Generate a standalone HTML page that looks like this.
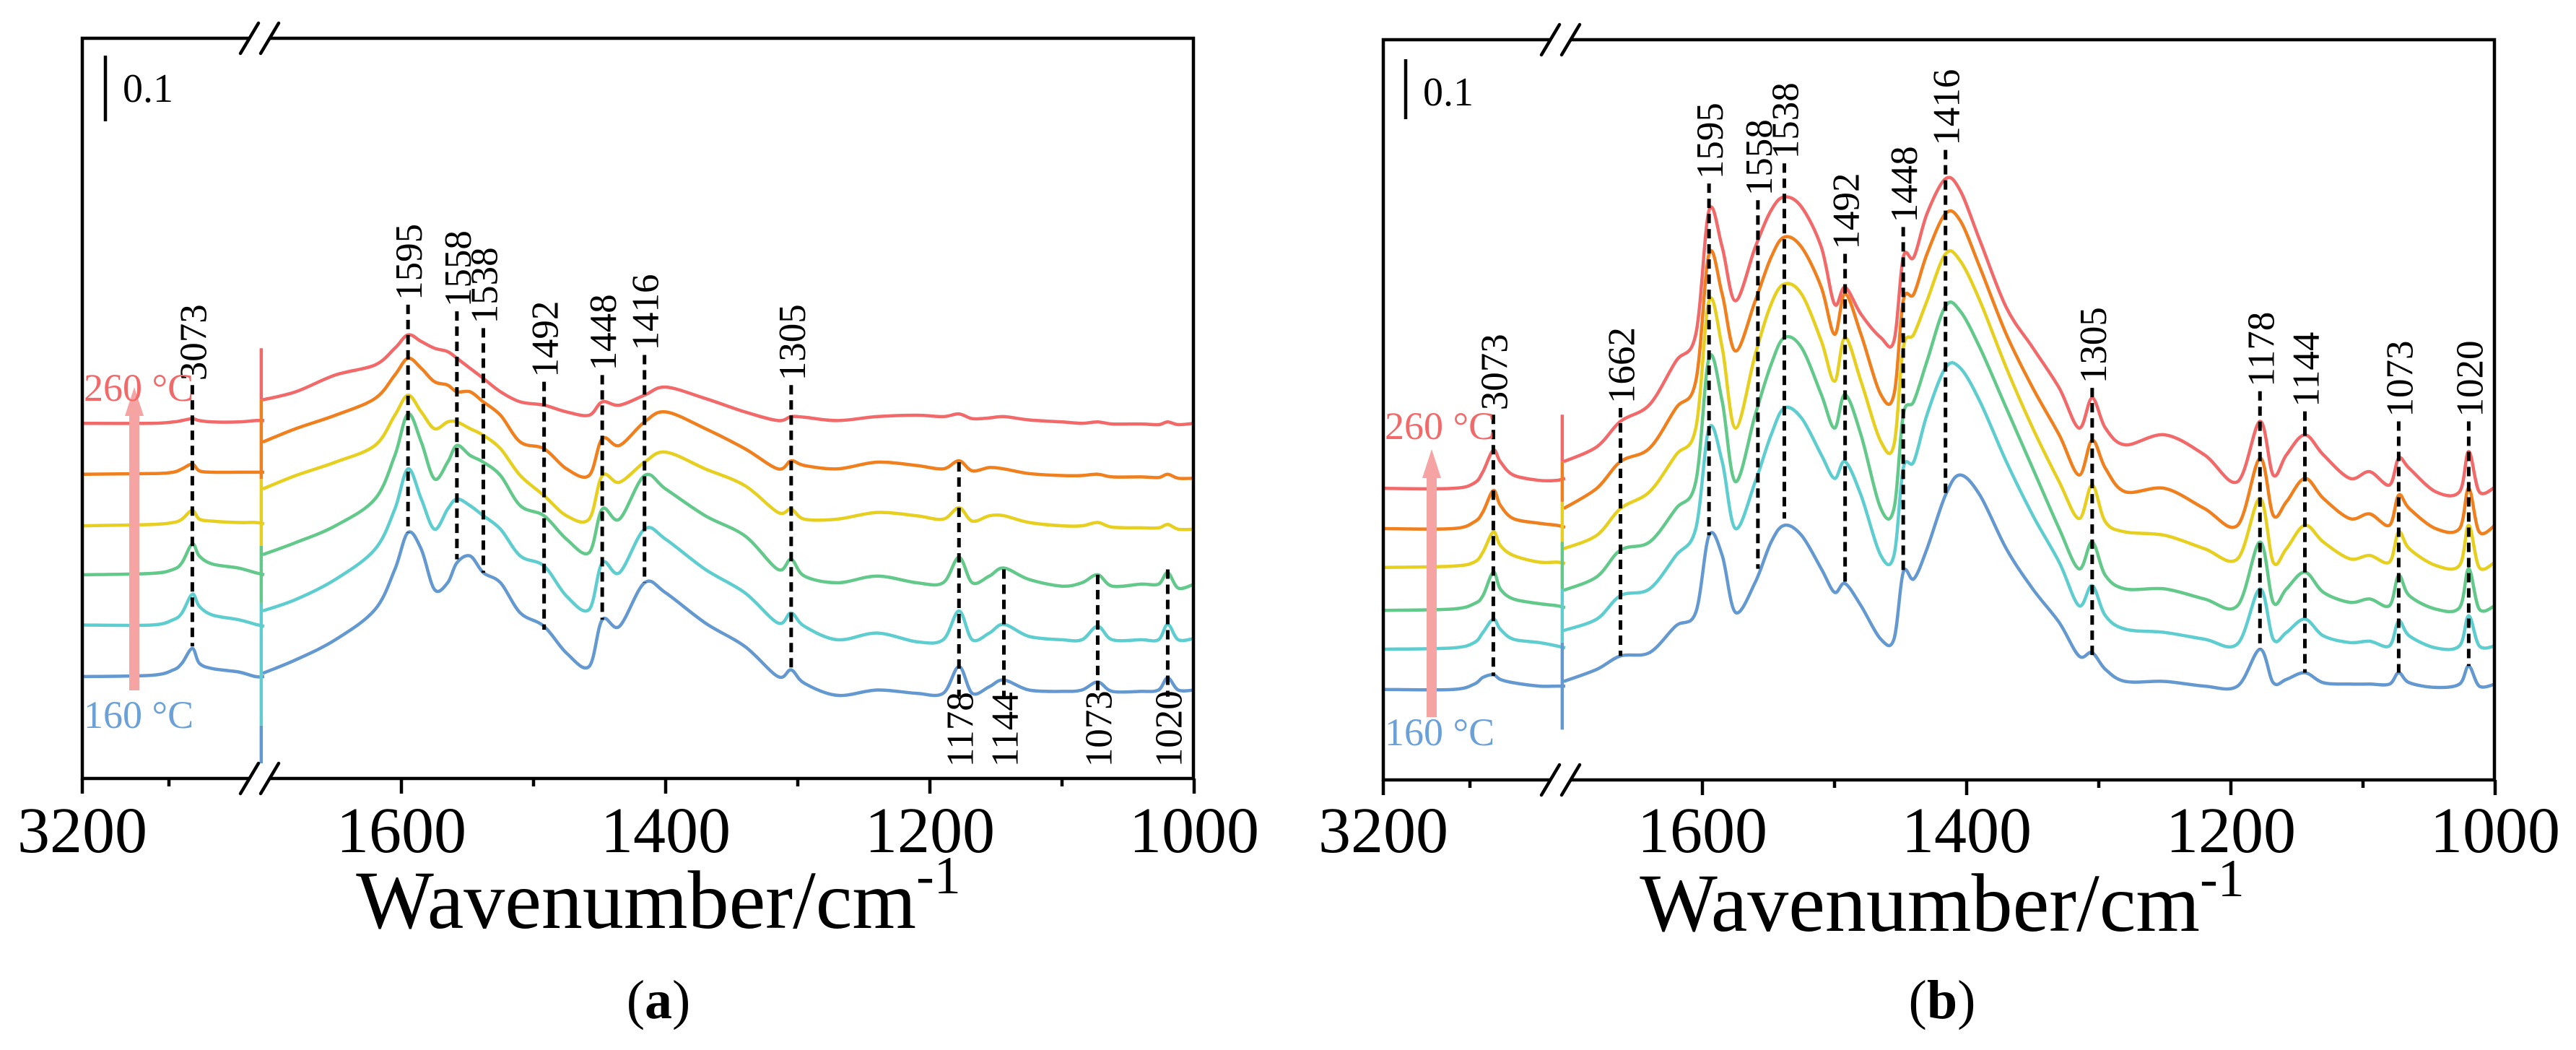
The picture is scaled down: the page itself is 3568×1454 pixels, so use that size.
<!DOCTYPE html>
<html><head><meta charset="utf-8"><style>
html,body{margin:0;padding:0;background:#fff}
svg{display:block}
text{font-family:"Liberation Serif",serif}
</style></head><body>
<svg id="fig" width="3568" height="1454" viewBox="0 0 3568 1454" xmlns="http://www.w3.org/2000/svg"></svg>
<script>
// ---------- DATA ----------
const temps = ["160 °C","180 °C","200 °C","220 °C","240 °C","260 °C"];
const waveLeft = [3200,3120,3095,3085,3073,3065,3050,3020,3000,2990];
const waveRightA = [1705,1680,1650,1620,1605,1595,1585,1575,1565,1558,1548,1538,1525,1510,1492,1475,1458,1448,1435,1416,1400,1370,1340,1315,1305,1295,1270,1240,1210,1190,1178,1168,1155,1144,1125,1100,1085,1073,1062,1040,1027,1020,1012,1000];
const waveRightB = [1705,1680,1662,1640,1620,1605,1595,1585,1575,1560,1548,1538,1525,1510,1500,1492,1480,1465,1455,1448,1440,1430,1416,1405,1390,1370,1350,1330,1315,1305,1295,1280,1250,1220,1195,1178,1168,1158,1144,1130,1110,1095,1080,1073,1065,1045,1027,1020,1012,1000];

// panel (a) intensities (a.u.), left segment
const aLeft160 = [190,192,200,210,232,210,202,197,190,190];
const aLeft180 = [267,267,275,285,313,295,282,275,268,265];
const aLeft200 = [342,344,350,360,388,370,358,352,345,342];
const aLeft220 = [415,417,420,425,438,425,422,420,420,418];
const aLeft240 = [492,493,495,500,507,497,495,495,495,495];
const aLeft260 = [568,568,570,572,575,572,570,570,572,572];
// panel (a) right segment
const aRight160 = [195,215,245,290,350,405,380,320,330,360,370,345,330,285,265,225,205,275,265,330,315,270,235,190,200,180,162,170,165,165,205,165,175,185,170,168,170,182,168,168,170,188,170,170];
const aRight180 = [288,305,335,380,440,500,455,410,440,455,445,430,410,370,355,310,290,360,345,410,395,350,315,270,285,265,245,255,242,245,288,245,255,268,250,245,245,265,245,245,245,268,245,247];
const aRight200 = [372,390,415,455,520,582,540,485,510,535,520,510,490,445,430,395,375,440,425,490,470,430,400,350,365,340,330,340,330,330,368,330,340,352,335,325,330,342,325,328,328,345,322,328];
const aRight220 = [470,490,510,535,580,610,585,560,570,570,560,550,530,490,460,430,425,490,480,510,525,500,475,435,440,425,425,435,430,425,442,422,430,430,420,415,415,420,413,412,412,417,410,410];
const aRight240 = [540,560,580,605,640,665,650,630,625,615,615,600,580,540,530,500,490,545,535,570,585,560,530,500,512,505,500,510,505,500,512,497,502,500,493,490,490,492,488,488,487,492,486,486];
const aRight260 = [603,615,640,655,680,700,690,680,675,665,650,635,615,600,595,585,580,600,595,610,622,605,585,572,578,577,572,578,580,578,582,575,576,578,573,570,568,570,567,567,566,570,566,568];

// panel (b)
const bLeft160 = [170,170,178,188,192,185,180,175,175,175];
const bLeft180 = [230,232,240,255,275,260,245,240,235,232];
const bLeft200 = [288,290,298,310,345,320,305,298,295,292];
const bLeft220 = [352,354,360,375,405,385,370,360,360,358];
const bLeft240 = [410,410,420,435,467,445,425,418,415,412];
const bLeft260 = [470,470,478,495,527,510,490,482,482,485];
const bRight160 = [182,200,220,225,265,285,400,370,285,330,390,415,400,350,315,328,295,245,245,345,335,380,460,490,460,380,320,270,220,225,200,182,182,175,175,230,180,185,195,180,178,178,178,195,180,173,178,205,175,178];
const bRight180 = [258,275,310,320,370,410,560,510,410,480,550,590,575,520,485,510,460,370,370,500,510,580,650,650,600,510,430,360,295,325,280,260,255,245,238,320,245,255,275,250,240,242,235,272,250,232,235,280,235,235];
const bRight200 = [318,338,378,390,440,480,665,600,480,580,655,695,680,610,560,610,550,440,440,580,600,660,742,735,680,590,500,410,350,390,340,320,320,305,295,390,300,320,345,315,300,305,295,340,310,290,292,350,290,295];
const bRight220 = [380,400,440,465,520,560,750,680,560,670,745,775,760,690,630,695,630,540,535,680,700,750,820,810,750,650,560,480,425,475,420,405,400,380,365,455,360,380,415,390,365,370,360,405,380,355,355,415,352,360];
const bRight240 = [440,470,510,530,590,630,820,760,675,750,815,845,830,770,700,760,700,610,610,750,760,820,880,870,800,700,620,550,490,542,500,465,470,440,415,515,430,450,485,455,425,432,415,460,440,410,410,470,405,415];
const bRight260 = [510,532,570,595,660,700,885,830,750,830,885,905,890,830,745,770,730,695,690,815,815,880,932,915,840,740,680,620,560,605,560,535,550,520,480,570,490,520,550,520,485,495,475,515,500,465,465,525,465,472];

// peak markers
const aPeaks = [3073,1595,1558,1538,1492,1448,1416,1305,1178,1144,1073,1020];
const aPeakTop = [625,745,735,710,630,640,670,625,510,350,342,350];
const aPeakBottom = [235,405,365,345,260,275,330,200,160,160,160,160];
const aPeakLabelBelow = [0,0,0,0,0,0,0,0,1,1,1,1];
const bPeaks = [3073,1662,1595,1558,1538,1492,1448,1416,1305,1178,1144,1073,1020];
const bPeakTop = [580,590,925,900,955,820,860,975,620,615,585,570,570];
const bPeakBottom = [190,220,400,350,425,330,345,460,215,230,195,195,205];

const breakA = [680,603,485,385,300,117,38];
const breakB = [580,510,450,390,320,240,110];

const ticksMajor = [3200,1600,1400,1200,1000];
const ticksMinor = [3100,1500,1300,1100];

const colors = ["#6399D0","#5ECDCF","#62C98B","#E6CF1E","#F07F1E","#F2696A"];

// ---------- DRAW ----------
const NS="http://www.w3.org/2000/svg";
const svg=document.getElementById('fig');
function mk(tag,attrs,parent){const e=document.createElementNS(NS,tag);for(const k in attrs)e.setAttribute(k,attrs[k]);(parent||svg).appendChild(e);return e;}

function smooth(pts){
  let d="M"+pts[0][0].toFixed(1)+","+pts[0][1].toFixed(1);
  for(let i=0;i<pts.length-1;i++){
    const p0=pts[i-1]||pts[i],p1=pts[i],p2=pts[i+1],p3=pts[i+2]||p2;
    const c1x=p1[0]+(p2[0]-p0[0])/6,c1y=p1[1]+(p2[1]-p0[1])/6;
    const c2x=p2[0]-(p3[0]-p1[0])/6,c2y=p2[1]-(p3[1]-p1[1])/6;
    d+=" C"+c1x.toFixed(1)+","+c1y.toFixed(1)+" "+c2x.toFixed(1)+","+c2y.toFixed(1)+" "+p2[0].toFixed(1)+","+p2[1].toFixed(1);
  }
  return d;
}

function panel(cfg){
  const off=cfg.off, top=cfg.top, bot=cfg.bot, L=114+off, R=1653+off;
  const xR=w=>556+off+(1600-w)*1.83;
  const xL=w=>114+off+(3200-w)*1.2;
  const xW=w=>w>2000?xL(w):xR(w);
  const yS=v=>bot-(v-cfg.v0)*0.928;
  const g=mk('g',{});
  
  

  for(let s=0;s<6;s++){
    const pl=cfg.left[s].map((v,i)=>[xL(waveLeft[i]),yS(v)]);
    const pr=cfg.right[s].map((v,i)=>[xR(cfg.waveR[i]),yS(v)]);
    const p1=mk('path',{d:smooth(pl),fill:'none',stroke:colors[s],'stroke-width':4.5,'stroke-linejoin':'round'},g);
    
    
    const p2=mk('path',{d:smooth(pr),fill:'none',stroke:colors[s],'stroke-width':4.5,'stroke-linejoin':'round'},g);
    
    
  }
  const bx=xR(1705)-2;
  for(let s=0;s<6;s++){
    const ln=mk('line',{x1:bx,x2:bx,y1:yS(cfg.brk[5-s]),y2:yS(cfg.brk[6-s]),stroke:colors[s],'stroke-width':4.5},g);
    
    
  }
  const fr=mk('rect',{x:L,y:top,width:R-L,height:bot-top,fill:'none',stroke:'#000','stroke-width':4.5},g);
  
  
  [top,bot].forEach(yy=>{
    const bk=mk('g',{},g);
    
    
    mk('polygon',{points:`${333+off},${yy+21} ${358+off},${yy-21} ${386+off},${yy-21} ${361+off},${yy+21}`,fill:'#fff'},bk);
    mk('line',{x1:333+off,y1:yy+21,x2:358+off,y2:yy-21,stroke:'#000','stroke-width':4.5,'stroke-linecap':'round'},bk);
    mk('line',{x1:361+off,y1:yy+21,x2:386+off,y2:yy-21,stroke:'#000','stroke-width':4.5,'stroke-linecap':'round'},bk);
  });
  ticksMajor.forEach(t=>{
    const x=xW(t);
    const tk=mk('line',{x1:x,x2:x,y1:bot,y2:bot+21,stroke:'#000','stroke-width':4.5},g);
    
    
    const tl=mk('text',{x:x,y:1180,'font-size':90,'text-anchor':'middle',fill:'#000'},g);
    tl.textContent=t;
    
    
  });
  ticksMinor.forEach(t=>{
    const x=xW(t);
    const tk=mk('line',{x1:x,x2:x,y1:bot,y2:bot+11,stroke:'#000','stroke-width':4.5},g);
    
    
  });
  cfg.peaks.forEach((p,i)=>{
    const x=xW(p), yt=yS(cfg.pTop[i]), yb=yS(cfg.pBot[i]);
    const dl=mk('line',{x1:x,x2:x,y1:yt,y2:yb,stroke:'#000','stroke-width':5,'stroke-dasharray':'13 8'},g);
    
    
    const below=cfg.below&&cfg.below[i];
    const ty=below?yS(55):yt-6;
    const tx=x+19;
    const tl=mk('text',{x:tx,y:ty,'font-size':53,'text-anchor':'start',fill:'#000',transform:`rotate(-90 ${tx} ${ty})`,'font-family':'"Liberation Sans",sans-serif'},g);
    tl.textContent=p;
    
    
  });
  const sb=mk('line',{x1:cfg.sbx,x2:cfg.sbx,y1:cfg.sby1,y2:cfg.sby2,stroke:'#000','stroke-width':4.5},g);
  
  
  const st=mk('text',{x:cfg.sbx+24,y:cfg.sby1+64,'font-size':56,fill:'#000'},g);
  st.textContent='0.1';
  
  
  const ar=mk('g',{},g);
  
  
  mk('rect',{x:cfg.arx-7,y:cfg.arTop+38,width:14,height:cfg.arBot-cfg.arTop-38,fill:'#F6A3A3'},ar);
  mk('polygon',{points:`${cfg.arx-13},${cfg.arTop+40} ${cfg.arx},${cfg.arTop} ${cfg.arx+13},${cfg.arTop+40}`,fill:'#F6A3A3'},ar);
  const t1=mk('text',{x:L+2,y:cfg.hiY,'font-size':54,fill:'#F2696A'},g);
  t1.textContent='260 °C';
  
  
  const t2=mk('text',{x:L+2,y:cfg.loY,'font-size':54,fill:'#6BA1D8'},g);
  t2.textContent='160 °C';
  
  
  const at=mk('text',{x:cfg.titleX,y:cfg.titleY,'font-size':114,'text-anchor':'middle',fill:'#000'},g);
  at.textContent='Wavenumber/cm';
  
  
  const ts=mk('tspan',{'font-size':74,dy:-48},at);
  ts.textContent='-1';
  const pl=mk('text',{x:cfg.titleX,y:1410,'font-size':76,'text-anchor':'middle',fill:'#000'},g);
  
  
  mk('tspan',{},pl).textContent='(';
  mk('tspan',{'font-weight':'bold'},pl).textContent=cfg.letter;
  mk('tspan',{},pl).textContent=')';
}

panel({name:'panel-a',off:0,top:53,bot:1078,v0:38,waveR:waveRightA,
  left:[aLeft160,aLeft180,aLeft200,aLeft220,aLeft240,aLeft260],
  right:[aRight160,aRight180,aRight200,aRight220,aRight240,aRight260],
  brk:breakA,peaks:aPeaks,pTop:aPeakTop,pBot:aPeakBottom,below:aPeakLabelBelow,
  sbx:146,sby1:77,sby2:168,arx:186,arTop:536,arBot:956,hiY:555,loY:1008,titleX:912,titleY:1285,letter:'a'});
panel({name:'panel-b',off:1802,top:55,bot:1080,v0:35,waveR:waveRightB,
  left:[bLeft160,bLeft180,bLeft200,bLeft220,bLeft240,bLeft260],
  right:[bRight160,bRight180,bRight200,bRight220,bRight240,bRight260],
  brk:breakB,peaks:bPeaks,pTop:bPeakTop,pBot:bPeakBottom,below:null,
  sbx:1947,sby1:82,sby2:165,arx:1983,arTop:622,arBot:993,hiY:608,loY:1032,titleX:2690,titleY:1289,letter:'b'});
</script>
</body></html>
